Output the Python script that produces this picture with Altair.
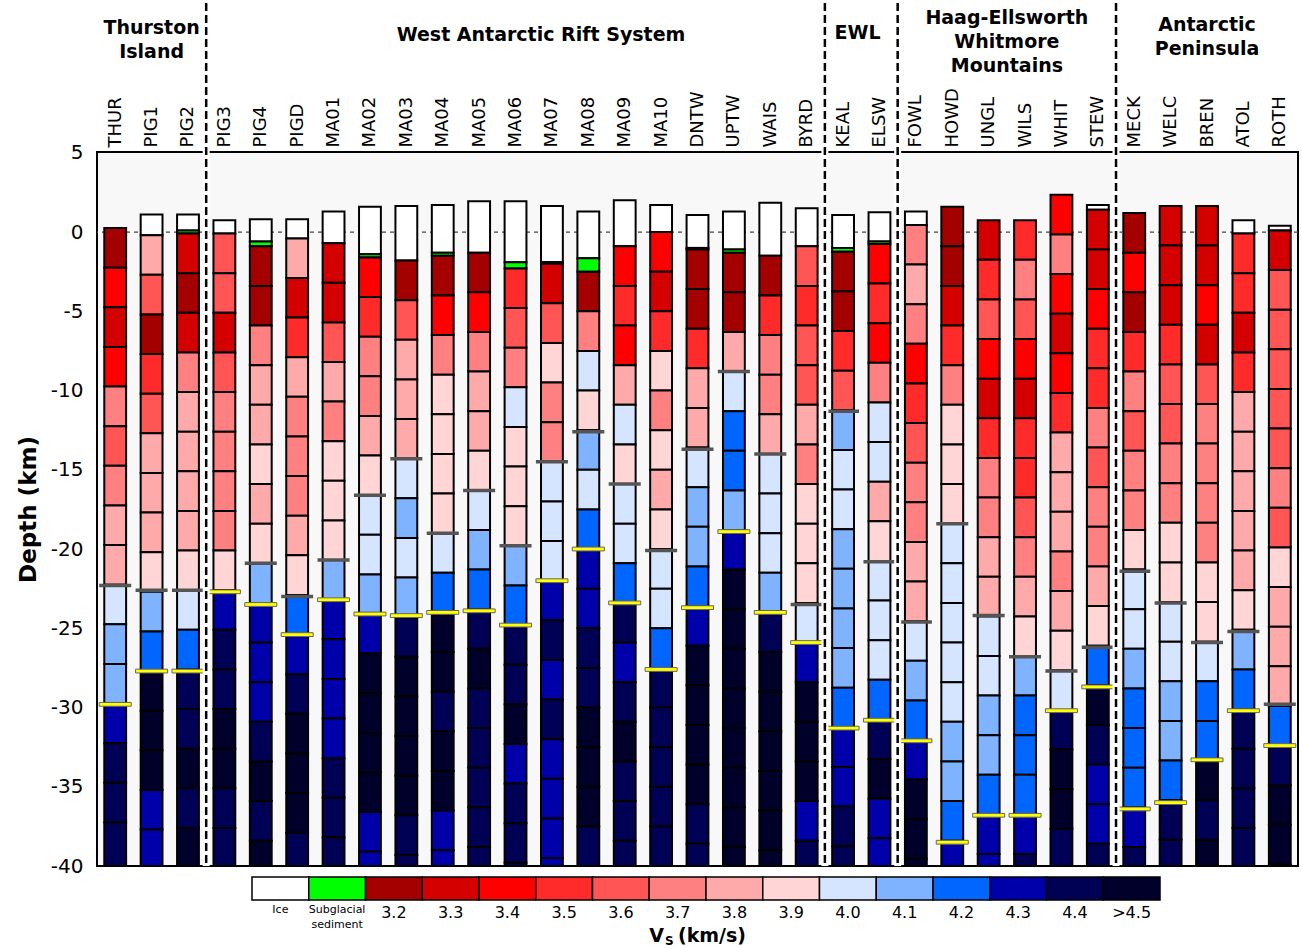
import altair as alt
import pandas as pd

# ---------------- data ----------------
stations = ["THUR", "PIG1", "PIG2", "PIG3", "PIG4", "PIGD", "MA01", "MA02", "MA03", "MA04",
            "MA05", "MA06", "MA07", "MA08", "MA09", "MA10", "DNTW", "UPTW", "WAIS", "BYRD",
            "KEAL", "ELSW", "FOWL", "HOWD", "UNGL", "WILS", "WHIT", "STEW", "MECK", "WELC",
            "BREN", "ATOL", "ROTH"]
# top of column (ice surface or rock surface), km
surface_km = [0.25, 1.1, 1.1, 0.75, 0.8, 0.8, 1.3, 1.6, 1.65, 1.7,
              1.95, 1.95, 1.65, 1.3, 2.0, 1.7, 1.07, 1.3, 1.85, 1.5,
              1.07, 1.25, 1.3, 1.6, 0.75, 0.75, 2.35, 1.7, 1.2, 1.65,
              1.65, 0.75, 0.4]
# base of ice (equal to surface where there is no ice)
ice_base_km = [0.25, -0.2, 0.1, -0.1, -0.6, -0.4, -0.7, -1.4, -1.8, -1.3,
               -1.3, -1.9, -1.9, -1.65, -0.9, 0.0, -1.0, -1.1, -1.5, -0.9,
               -1.0, -0.6, 0.45, 1.6, 0.75, 0.75, 2.35, 1.4, 1.2, 1.65,
               1.65, -0.1, 0.1]
# base of subglacial sediment (equal to ice base where there is none)
sed_base_km = [0.25, -0.2, -0.1, -0.1, -0.9, -0.4, -0.7, -1.6, -1.8, -1.5,
               -1.3, -2.3, -2.0, -2.5, -0.9, 0.0, -1.1, -1.3, -1.5, -0.9,
               -1.25, -0.75, 0.45, 1.6, 0.75, 0.75, 2.35, 1.4, 1.2, 1.65,
               1.65, -0.1, 0.1]
# Vs class of each 2.5 km layer below the sediment, top to bottom
# 2..9 -> 3.2..3.9 km/s, A..E -> 4.0..4.4 km/s, F -> >4.5 km/s
layer_vs = [
    "2434767" "88ABBDEEE",   # THUR
    "8625688" "89BCFFFDD",   # PIG1
    "3237888" "89ACEEFEF",   # PIG2
    "6636777" "79DEEFFEE",   # PIG3
    "2278898" "9BDDDEFEF",   # PIG4
    "8358777" "89CDEFFFE",   # PIGD
    "3368799" "9BDDDDEEE",   # MA01
    "457789" "AABDFFFFDD",   # MA02
    "26888" "ABABEFFFFEE",   # MA03
    "2479999" "ACFFEFFDD",   # MA04
    "247889" "ABCEFEEEEE",   # MA05
    "567A999" "BCEEFDEEE",   # MA06
    "36977AAA" "DEDEDDDD",   # MA07
    "27A9BAC" "DDEEFFFEE",   # MA08
    "4548A9" "AACEDEFEEE",   # MA09
    "4359798" "9AACEEEEE",   # MA10
    "22588" "ABBCDFFFFEE",   # DNTW
    "228" "ACCBDFFFFFFFF",   # UPTW
    "25778" "AAABEFFFFFF",   # WAIS
    "6566879" "99ADFFFDE",   # BYRD
    "2256" "BAABBBBCDDEE",   # KEAL
    "4547AA8" "9AAACEFDD",   # ELSW
    "7874567" "788ABCDFFF",  # FOWL
    "22357999" "AAAAABBCD",  # HOWD
    "35643577" "88AABBCDD",  # UNGL
    "57643556" "789BCCCDE",  # WILS
    "47434588" "8789AEFFE",  # WHIT
    "33455767" "789CFEDDE",  # STEW
    "24257677" "9AABCCCDE",  # MECK
    "33356677" "99AABBCEE",  # WELC
    "33436777" "799ACCFEF",  # BREN
    "5535888" "889BCEEEE",   # ATOL
    "3666667" "69888CEFFF",  # ROTH
]
# grey marker depth (km) and yellow marker depth (km)
gray_km = [-22.3, -22.6, -22.6, None, -20.9, -23.0, -20.7, -16.6, -14.3, -19.0,
           -16.3, -19.8, -14.5, -12.6, -15.9, -20.1, -13.7, -8.8, -14.0, -23.5,
           -11.3, -20.8, -24.6, -18.4, -24.2, -26.8, -27.7, -26.2, -21.4, -23.4,
           -25.9, -25.2, -29.8]
moho_km = [-29.8, -27.7, -27.7, -22.7, -23.5, -25.4, -23.2, -24.1, -24.2, -24.0,
           -23.9, -24.8, -22.0, -20.0, -23.4, -27.6, -23.7, -18.9, -24.0, -25.9,
           -31.3, -30.8, -32.1, -38.5, -36.8, -36.8, -30.2, -28.7, -36.4, -36.0,
           -33.3, -30.2, -32.4]

group_names = ["Thurston\nIsland", "West Antarctic Rift System", "EWL",
               "Haag-Ellsworth\nWhitmore\nMountains", "Antarctic\nPeninsula"]
group_center = [1.0, 11.7, 20.4, 24.5, 30.0]
group_first_line_px = [-124, -117, -119, -134, -127]
divider_pos = [2.5, 19.5, 21.5, 27.5]

legend_codes = ["ice", "sed", "2", "3", "4", "5", "6", "7", "8", "9", "A", "B", "C", "D", "E", "F"]
legend_labels = ["Ice", "Subglacial\nsediment", "3.2", "3.3", "3.4", "3.5", "3.6", "3.7",
                 "3.8", "3.9", "4.0", "4.1", "4.2", "4.3", "4.4", ">4.5"]
legend_colors = ["#FFFFFF", "#00FF00", "#A50000", "#D40000", "#FF0000", "#FF2A2A", "#FF5555",
                 "#FF8080", "#FFAAAA", "#FFD5D5", "#D5E5FF", "#80B3FF", "#0066FF", "#0000AA",
                 "#000055", "#00002B"]
y_ticks = [5, 0, -5, -10, -15, -20, -25, -30, -35, -40]

LAYER_KM = 2.5
BOTTOM_KM = -40.0
FONT = "DejaVu Sans"
W, H = 1201, 714
N = len(stations)
STEP = W / N
# legend bar placement (in plot pixels), converted to the station-index axis
LEG_X0_PX, LEG_X1_PX = 155, 1063

def px_to_idx(px):
    return px / STEP - 0.5

# ---------------- tables ----------------
cells = []
for i, name in enumerate(stations):
    s, ib, sb = surface_km[i], ice_base_km[i], sed_base_km[i]
    if s > ib:
        cells.append(dict(st=name, x0=i - 0.3, x1=i + 0.3, top=s, bot=ib, code="ice"))
    if ib > sb:
        cells.append(dict(st=name, x0=i - 0.3, x1=i + 0.3, top=ib, bot=sb, code="sed"))
    codes = layer_vs[i]
    for k, c in enumerate(codes):
        t = sb - k * LAYER_KM
        if t <= BOTTOM_KM:
            break
        b = max(t - LAYER_KM, BOTTOM_KM)
        if k == len(codes) - 1:
            b = BOTTOM_KM  # last listed layer reaches the base of the model
        cells.append(dict(st=name, x0=i - 0.3, x1=i + 0.3, top=t, bot=b, code=c))
cells = pd.DataFrame(cells)

marks = pd.DataFrame(dict(i=list(range(N)), st=stations, gray=gray_km, moho=moho_km))
marks["xa"] = marks["i"] - 0.44
marks["xb"] = marks["i"] + 0.44
marks["m0"] = marks["moho"] + 0.12
marks["m1"] = marks["moho"] - 0.12
gmarks = marks.dropna(subset=["gray"])

divs = pd.DataFrame(dict(d=divider_pos))
zero = pd.DataFrame(dict(z=[0.0]))

leg = pd.DataFrame(dict(code=legend_codes, lab=legend_labels))
lx0, lx1 = px_to_idx(LEG_X0_PX), px_to_idx(LEG_X1_PX)
bw = (lx1 - lx0) / len(leg)
leg["k0"] = [lx0 + k * bw for k in range(len(leg))]
leg["k1"] = leg["k0"] + bw
leg["kc"] = leg["k0"] + bw / 2
leg_small = leg.iloc[:2]
leg_big = leg.iloc[2:]

# ---------------- scales & axes (identical on every layer so they merge) ----------------
xs = alt.Scale(domain=[-0.5, N - 0.5], nice=False, zero=False)
ys = alt.Scale(domain=[BOTTOM_KM, 5.05], nice=False, zero=False)
color = alt.Color("code:N", scale=alt.Scale(domain=legend_codes, range=legend_colors), legend=None)

label_array = "[" + ",".join("'%s'" % s for s in stations) + "]"
X_AXIS = alt.Axis(
    orient="top", values=list(range(N)),
    labelExpr=label_array + "[datum.value]", labelAngle=270, labelAlign="left",
    labelBaseline="middle", labelFontSize=18, labelFont=FONT, labelColor="black",
    labelPadding=5, labelOverlap=False, labelBound=False, labelFlush=False,
    ticks=False, domain=False, grid=False, title=None)
Y_AXIS = alt.Axis(
    values=y_ticks, labelExpr="toString(datum.value)", labelFontSize=20, labelFont=FONT,
    labelColor="black", ticks=False, domain=False, grid=False, labelPadding=14,
    labelFlush=False, labelOverlap=False,
    title="Depth (km)", titleFontSize=23, titleFont=FONT, titleFontWeight="bold",
    titleColor="black", titlePadding=10)


def X(field):
    return alt.X(field, scale=xs, axis=X_AXIS)


def Y(field):
    return alt.Y(field, scale=ys, axis=Y_AXIS)


zero_line = alt.Chart(zero).mark_rule(color="#444444", strokeDash=[4, 4], strokeWidth=1.3).encode(
    y=Y("z:Q")
)

col_cells = alt.Chart(cells).mark_rect(stroke="black", strokeWidth=2).encode(
    x=X("x0:Q"), x2="x1:Q", y=Y("top:Q"), y2="bot:Q", color=color,
)

gray_rule = alt.Chart(gmarks).mark_rule(color="#555555", strokeWidth=3.5).encode(
    x=X("xa:Q"), x2="xb:Q", y=Y("gray:Q"),
)

moho_rect = alt.Chart(marks).mark_rect(fill="#FFFF00", stroke="#666666", strokeWidth=1).encode(
    x=X("xa:Q"), x2="xb:Q", y=Y("m0:Q"), y2="m1:Q",
)

div_white = alt.Chart(divs).mark_rule(color="white", strokeWidth=7).encode(
    x=X("d:Q"), y=alt.value(-149), y2=alt.value(H)
)
div_black = alt.Chart(divs).mark_rule(color="black", strokeWidth=2.5, strokeDash=[8, 4]).encode(
    x=X("d:Q"), y=alt.value(-149), y2=alt.value(H)
)

group_layers = []
for g, gx, gy in zip(group_names, group_center, group_first_line_px):
    group_layers.append(
        alt.Chart(pd.DataFrame(dict(g=[g], gx=[gx]))).mark_text(
            font=FONT, fontSize=19, fontWeight="bold", color="black", lineBreak="\n",
            lineHeight=24, baseline="middle", align="center"
        ).encode(x=X("gx:Q"), y=alt.value(gy), text="g:N")
    )

leg_boxes = alt.Chart(leg).mark_rect(stroke="black", strokeWidth=1.5).encode(
    x=X("k0:Q"), x2="k1:Q", y=alt.value(725), y2=alt.value(748), color=color,
)
leg_small_txt = alt.Chart(leg_small).mark_text(
    font=FONT, fontSize=11, color="black", lineBreak="\n", lineHeight=15,
    baseline="top", align="center"
).encode(x=X("kc:Q"), y=alt.value(752), text="lab:N")
leg_big_txt = alt.Chart(leg_big).mark_text(
    font=FONT, fontSize=16, color="black", baseline="middle", align="center"
).encode(x=X("kc:Q"), y=alt.value(761), text="lab:N")

# legend title "V_S (km/s)" placed just left of the legend centre
title_px = [567, 568, 581]
ttl = pd.DataFrame(dict(t=["V", "S", "(km/s)"], tx=[px_to_idx(p) for p in title_px]))
t_v = alt.Chart(ttl.iloc[[0]]).mark_text(font=FONT, fontSize=19, fontWeight="bold", color="black",
                                          align="right", baseline="middle").encode(
    x=X("tx:Q"), y=alt.value(784), text="t:N")
t_s = alt.Chart(ttl.iloc[[1]]).mark_text(font=FONT, fontSize=12, fontWeight="bold", color="black",
                                          align="left", baseline="middle").encode(
    x=X("tx:Q"), y=alt.value(789), text="t:N")
t_u = alt.Chart(ttl.iloc[[2]]).mark_text(font=FONT, fontSize=19, fontWeight="bold", color="black",
                                          align="left", baseline="middle").encode(
    x=X("tx:Q"), y=alt.value(784), text="t:N")

chart = alt.layer(
    zero_line, col_cells, gray_rule, moho_rect, div_white, div_black, *group_layers,
    leg_boxes, leg_small_txt, leg_big_txt, t_v, t_s, t_u
).properties(
    width=W, height=H,
    autosize=alt.AutoSizeParams(type="none"),
    padding={"left": 97, "top": 152, "right": 4, "bottom": 82},
    background="white",
).configure(font=FONT).configure_view(stroke="black", strokeWidth=2, fill="#F8F8F8")

chart.save("out.html", embed_options={"renderer": "svg", "actions": False})
